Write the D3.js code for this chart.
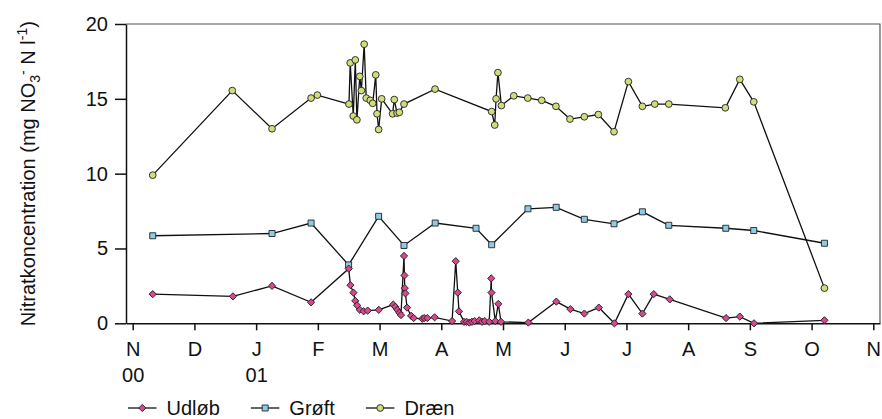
<!DOCTYPE html>
<html>
<head>
<meta charset="utf-8">
<script src="https://cdn.jsdelivr.net/npm/d3@7"></script>
<style>
    body { margin: 0; background: #fff; }
    #chart { width: 882px; height: 419px; }
    text { font-family: "Liberation Sans", Arial, Helvetica, sans-serif; fill: #111; }
</style>
</head>
<body>
<div id="chart"></div>
<script>

// tick labels
const monthLabels = ["N", "D", "J", "F", "M", "A", "M", "J", "J", "A", "S", "O", "N"];
const yearLabels = ["00", "", "01", "", "", "", "", "", "", "", "", "", ""];
const yTicks = [0, 5, 10, 15, 20];
const seriesNames = ["Udløb", "Grøft", "Dræn"];

// sample times (UTC, to the hour) and nitrate values per series
const udlobDates = [
    "2000-11-10T21", "2000-12-20T10", "2001-01-08T16", "2001-01-27T22", "2001-02-15T11",
    "2001-02-16T07", "2001-02-17T19", "2001-02-18T17", "2001-02-19T14", "2001-02-20T22",
    "2001-02-22T19", "2001-02-24T19", "2001-03-02T07", "2001-03-09T10", "2001-03-10T10",
    "2001-03-11T10", "2001-03-12T10", "2001-03-13T05", "2001-03-14T17", "2001-03-14T22",
    "2001-03-15T02", "2001-03-15T10", "2001-03-16T05", "2001-03-18T05", "2001-03-19T12",
    "2001-03-23T17", "2001-03-24T17", "2001-03-26T05", "2001-03-29T19", "2001-04-07T10",
    "2001-04-09T05", "2001-04-10T05", "2001-04-10T19", "2001-04-13T07", "2001-04-14T14",
    "2001-04-15T22", "2001-04-17T05", "2001-04-18T12", "2001-04-20T19", "2001-04-22T05",
    "2001-04-23T12", "2001-04-25T17", "2001-04-26T17", "2001-04-26T20", "2001-04-28T17",
    "2001-04-30T05", "2001-05-01T12", "2001-05-15T00", "2001-05-28T19", "2001-06-04T17",
    "2001-06-11T14", "2001-06-18T17", "2001-06-26T10", "2001-07-03T07", "2001-07-10T05",
    "2001-07-15T19", "2001-07-23T17", "2001-08-20T10", "2001-08-27T05", "2001-09-03T05",
    "2001-10-07T22"
];
const udlobValues = [
    1.95, 1.8, 2.5, 1.4, 3.65,
    2.55, 2.05, 1.5, 1.2, 0.9,
    0.8, 0.85, 0.9, 1.25, 1.1,
    0.9, 0.7, 0.55, 4.5, 3.2,
    2.35, 2.0, 1.05, 0.5, 0.35,
    0.3, 0.35, 0.35, 0.4, 0.15,
    4.15, 2.05, 0.8, 0.1, 0.1,
    0.05, 0.1, 0.15, 0.2, 0.1,
    0.15, 0.1, 3.0, 2.05, 0.15,
    1.3, 0.1, 0.05, 1.45, 0.95,
    0.65, 1.05, 0.0, 1.95, 0.65,
    1.95, 1.6, 0.35, 0.45, 0.0,
    0.2
];

const groftDates = [
    "2000-11-10T21", "2001-01-08T16", "2001-01-27T22", "2001-02-15T10", "2001-03-02T05",
    "2001-03-14T17", "2001-03-30T02", "2001-04-19T05", "2001-04-26T22", "2001-05-14T19",
    "2001-05-28T17", "2001-06-11T14", "2001-06-26T05", "2001-07-10T05", "2001-07-23T05",
    "2001-08-20T07", "2001-09-03T02", "2001-10-07T22"
];
const groftValues = [
    5.85, 6.0, 6.7, 3.9, 7.15,
    5.2, 6.7, 6.35, 5.25, 7.65,
    7.75, 6.95, 6.65, 7.45, 6.55,
    6.35, 6.2, 5.35
];

const draenDates = [
    "2000-11-10T21", "2000-12-20T02", "2001-01-08T16", "2001-01-27T22", "2001-01-31T00",
    "2001-02-15T14", "2001-02-16T05", "2001-02-17T17", "2001-02-18T17", "2001-02-19T12",
    "2001-02-20T22", "2001-02-21T17", "2001-02-23T02", "2001-02-24T02", "2001-02-26T02",
    "2001-02-27T07", "2001-02-28T19", "2001-03-01T10", "2001-03-02T05", "2001-03-03T17",
    "2001-03-09T02", "2001-03-09T22", "2001-03-11T07", "2001-03-12T10", "2001-03-14T17",
    "2001-03-30T00", "2001-04-26T22", "2001-04-28T10", "2001-04-29T02", "2001-04-30T00",
    "2001-05-01T17", "2001-05-07T19", "2001-05-14T17", "2001-05-21T14", "2001-05-28T14",
    "2001-06-04T12", "2001-06-11T14", "2001-06-18T12", "2001-06-26T05", "2001-07-03T07",
    "2001-07-10T05", "2001-07-16T07", "2001-07-23T05", "2001-08-20T02", "2001-08-27T05",
    "2001-09-03T02", "2001-10-07T22"
];
const draenValues = [
    9.9, 15.55, 13.0, 15.05, 15.25,
    14.65, 17.4, 13.85, 17.6, 13.6,
    16.5, 15.55, 18.65, 15.05, 14.9,
    14.7, 16.6, 14.0, 12.95, 15.0,
    14.0, 14.95, 14.05, 14.1, 14.65,
    15.65, 14.15, 13.25, 15.0, 16.75,
    14.55, 15.2, 15.05, 14.9, 14.5,
    13.65, 13.8, 13.95, 12.8, 16.15,
    14.5, 14.65, 14.65, 14.4, 16.3,
    14.8, 2.35
];


class NitrateVis {

    constructor(parentElement) {
        this.parentElement = parentElement;

        // marker look per series
        this.styles = {
            "Udløb": {fill: "#d9488e", shape: d3.symbolSquare, size: 26, rotate: 45},
            "Grøft": {fill: "#8dcbe6", shape: d3.symbolSquare, size: 36, rotate: 0},
            "Dræn": {fill: "#d3dc7a", shape: d3.symbolCircle, size: 36, rotate: 0}
        };

        this.initVis()
    }

    initVis() {
        let vis = this;

        vis.margin = {top: 24, right: 2, bottom: 95.7, left: 126};
        vis.width = 882 - vis.margin.left - vis.margin.right;
        vis.height = 419 - vis.margin.top - vis.margin.bottom;

        vis.svg = d3.select("#" + vis.parentElement).append("svg")
            .attr("width", 882)
            .attr("height", 419);

        vis.g = vis.svg.append("g")
            .attr("transform", `translate(${vis.margin.left}, ${vis.margin.top})`);

        // months are drawn evenly spaced, one year from 1 Nov 2000
        vis.start = Date.UTC(2000, 10, 1);
        vis.day = 864e5;
        vis.x = d3.scaleUtc()
            .domain([new Date(vis.start - 3.3 * vis.day), new Date(vis.start + 368.3 * vis.day)])
            .range([0, vis.width]);

        vis.y = d3.scaleLinear()
            .domain([0, 20])
            .range([vis.height, 0]);

        vis.monthTicks = monthLabels.map((m, i) => new Date(vis.start + i * 365 / 12 * vis.day));

        // frame on top and right
        vis.g.append("path")
            .attr("d", `M0,0H${vis.width}V${vis.height}`)
            .attr("fill", "none")
            .attr("stroke", "#555")
            .attr("stroke-width", 1.2);

        vis.wrangleData()
    }

    wrangleData() {
        let vis = this;

        let parseTime = d3.utcParse("%Y-%m-%dT%H");
        let raw = {
            "Udløb": [udlobDates, udlobValues],
            "Grøft": [groftDates, groftValues],
            "Dræn": [draenDates, draenValues]
        };

        vis.series = seriesNames.map(name => ({
            name: name,
            values: raw[name][0].map((d, i) => ({date: parseTime(d), value: raw[name][1][i]}))
        }));

        vis.updateVis()
    }

    updateVis() {
        let vis = this;

        // axes
        let xAxis = d3.axisBottom(vis.x)
            .tickValues(vis.monthTicks)
            .tickSize(7)
            .tickSizeOuter(0)
            .tickPadding(12)
            .tickFormat((d, i) => monthLabels[i]);

        let xg = vis.g.append("g")
            .attr("class", "x-axis")
            .attr("transform", `translate(0, ${vis.height})`)
            .call(xAxis);

        xg.selectAll(".tick text")
            .style("font-size", "20px")
            .each(function (d, i) {
                if (yearLabels[i]) {
                    d3.select(this).append("tspan")
                        .attr("x", 0)
                        .attr("dy", "1.28em")
                        .text(yearLabels[i]);
                }
            });

        let yAxis = d3.axisLeft(vis.y)
            .tickValues(yTicks)
            .tickSize(11)
            .tickSizeOuter(0)
            .tickPadding(7);

        let yg = vis.g.append("g")
            .attr("class", "y-axis")
            .call(yAxis);
        yg.selectAll(".tick text").style("font-size", "20px");

        vis.g.selectAll(".domain, .tick line")
            .attr("stroke", "#111")
            .attr("stroke-width", 1.5);
        vis.g.selectAll("text").attr("fill", "#111");

        // y label with sub and superscripts
        let ylab = vis.svg.append("text")
            .attr("transform", `translate(35, ${vis.margin.top + vis.height / 2}) rotate(-90)`)
            .attr("text-anchor", "middle")
            .style("font-size", "20px");
        ylab.append("tspan").text("Nitratkoncentration (mg NO");
        ylab.append("tspan").attr("dy", 5).style("font-size", "14px").text("3");
        ylab.append("tspan").attr("dy", -12).style("font-size", "14px").text("-");
        ylab.append("tspan").attr("dy", 7).text(" N l");
        ylab.append("tspan").attr("dy", -8).style("font-size", "14px").text("-1");
        ylab.append("tspan").attr("dy", 8).text(")");

        // lines and markers, drawn back to front
        let line = d3.line()
            .x(d => vis.x(d.date))
            .y(d => vis.y(d.value));

        let order = ["Dræn", "Grøft", "Udløb"];
        order.forEach(name => {
            let s = vis.series.find(d => d.name === name);
            let st = vis.styles[name];
            let sg = vis.g.append("g").attr("class", "series");

            sg.append("path")
                .datum(s.values)
                .attr("fill", "none")
                .attr("stroke", "#111")
                .attr("stroke-width", 1.3)
                .attr("d", line);

            sg.selectAll(".marker")
                .data(s.values)
                .enter().append("path")
                .attr("class", "marker")
                .attr("d", d3.symbol().type(st.shape).size(st.size))
                .attr("transform", d => `translate(${vis.x(d.date)}, ${vis.y(d.value)}) rotate(${st.rotate})`)
                .attr("fill", st.fill)
                .attr("stroke", "#222")
                .attr("stroke-width", 0.9);
        });

        // legend underneath
        let legend = vis.svg.append("g")
            .attr("class", "legend")
            .attr("transform", "translate(128, 408)");

        let xPos = 0;
        vis.series.forEach(s => {
            let st = vis.styles[s.name];
            let item = legend.append("g").attr("transform", `translate(${xPos}, 0)`);

            item.append("line")
                .attr("x1", 0).attr("x2", 28.5)
                .attr("stroke", "#111")
                .attr("stroke-width", 1.3);
            item.append("path")
                .attr("d", d3.symbol().type(st.shape).size(st.size))
                .attr("transform", `translate(14.3, 0) rotate(${st.rotate})`)
                .attr("fill", st.fill)
                .attr("stroke", "#222")
                .attr("stroke-width", 0.9);
            let label = item.append("text")
                .attr("x", 38.5)
                .attr("dy", "0.35em")
                .style("font-size", "20px")
                .text(s.name);

            xPos += 38.5 + label.node().getComputedTextLength() + 31;
        });
    }
}

let nitrateVis = new NitrateVis("chart");
</script>
</body>
</html>
